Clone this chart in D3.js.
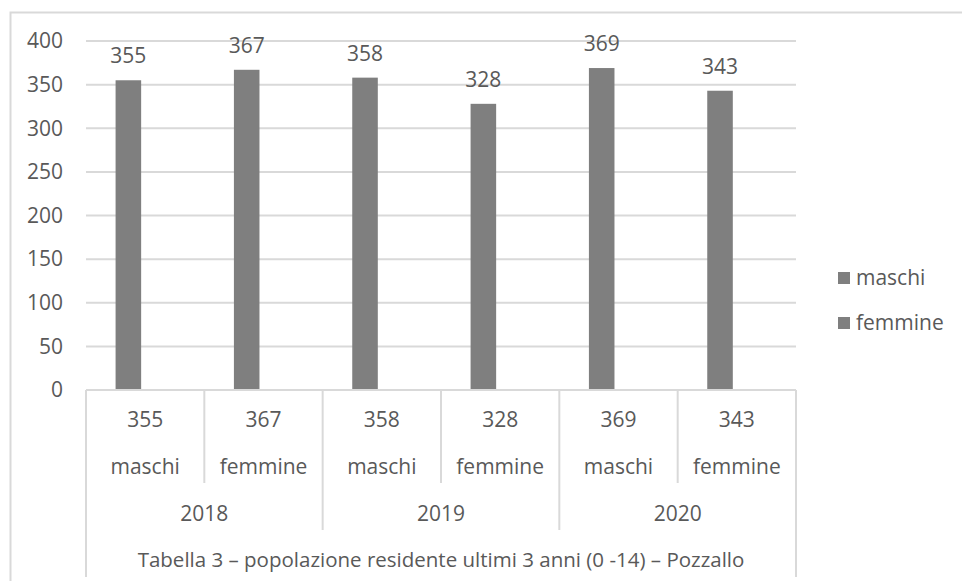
<!DOCTYPE html>
<html lang="it">
<head>
<meta charset="UTF-8">
<title>Popolazione residente 0-14 Pozzallo</title>
<script src="https://d3js.org/d3.v7.min.js"></script>
<style>
    body { margin: 0; background: #fff; }
    svg text { font-family: "Open Sans", sans-serif; fill: #595959; }
</style>
</head>
<body>
<div id="chart"></div>
<script>
// data
const years = ["2018", "2019", "2020"];
const categories = ["m2018", "f2018", "m2019", "f2019", "m2020", "f2020"];
const sexLabels = ["maschi", "femmine", "maschi", "femmine", "maschi", "femmine"];
const values = [355, 367, 358, 328, 369, 343];
const yTicks = [0, 50, 100, 150, 200, 250, 300, 350, 400];
const legendItems = ["maschi", "femmine"];
const caption = "Tabella 3 \u2013 popolazione residente ultimi 3 anni (0 -14) \u2013 Pozzallo";

const W = 962, H = 581;
const plotLeft = 86, plotRight = 796, plotTop = 41, plotBottom = 390;
const grid = "#d9d9d9", barColor = "#7f7f7f";
const fs = 21;

const svg = d3.select("#chart").append("svg")
    .attr("width", W).attr("height", H);

// outer frame
svg.append("path")
    .attr("d", `M10.5,${H + 5} V12.5 H${W + 5}`)
    .attr("fill", "none").attr("stroke", grid).attr("stroke-width", 2);

const x = d3.scaleBand().domain(categories).range([plotLeft, plotRight]).padding(0);
const xYear = d3.scaleBand().domain(years).range([plotLeft, plotRight]).padding(0);
const y = d3.scaleLinear().domain([0, 400]).range([plotBottom, plotTop]);

// gridlines
svg.append("g").selectAll("line")
    .data(yTicks.filter(d => d > 0))
    .join("line")
    .attr("x1", plotLeft).attr("x2", plotRight)
    .attr("y1", d => y(d)).attr("y2", d => y(d))
    .attr("stroke", grid).attr("stroke-width", 2);

// y axis labels
svg.append("g").selectAll("text")
    .data(yTicks)
    .join("text")
    .attr("x", 63).attr("y", d => y(d))
    .attr("dy", "0.35em")
    .attr("text-anchor", "end")
    .attr("font-size", fs)
    .text(d => d);

// bars
const bw = x.bandwidth();
svg.append("g").selectAll("rect")
    .data(values)
    .join("rect")
    .attr("x", (d, i) => x(categories[i]) + bw * 0.25)
    .attr("width", bw * 0.216)
    .attr("y", d => y(d))
    .attr("height", d => y(0) - y(d))
    .attr("fill", barColor);

// value labels above bars
svg.append("g").selectAll("text")
    .data(values)
    .join("text")
    .attr("x", (d, i) => x(categories[i]) + bw * 0.25 + bw * 0.108)
    .attr("y", d => y(d) - 17)
    .attr("text-anchor", "middle")
    .attr("font-size", fs)
    .text(d => d);

// multi-level category axis
const axis = svg.append("g").attr("stroke", grid).attr("stroke-width", 2);
axis.append("line").attr("x1", plotLeft).attr("x2", plotRight).attr("y1", plotBottom).attr("y2", plotBottom);
axis.append("line").attr("x1", plotLeft).attr("x2", plotLeft).attr("y1", plotBottom).attr("y2", 577);
axis.append("line").attr("x1", plotRight).attr("x2", plotRight).attr("y1", plotBottom).attr("y2", 577);
axis.selectAll(".sep").data(categories.filter((c, i) => i % 2 === 1))
    .join("line")
    .attr("x1", d => x(d)).attr("x2", d => x(d))
    .attr("y1", plotBottom).attr("y2", 483);
axis.selectAll(".ysep").data(years.slice(1))
    .join("line")
    .attr("x1", d => xYear(d)).attr("x2", d => xYear(d))
    .attr("y1", plotBottom).attr("y2", 530);

const lab = svg.append("g").attr("text-anchor", "middle").attr("font-size", fs);
lab.selectAll(".v").data(values).join("text")
    .attr("x", (d, i) => x(categories[i]) + bw / 2)
    .attr("y", 420).attr("dy", "0.35em")
    .text(d => d);
lab.selectAll(".s").data(sexLabels).join("text")
    .attr("x", (d, i) => x(categories[i]) + bw / 2)
    .attr("y", 467).attr("dy", "0.35em")
    .text(d => d);
lab.selectAll(".yr").data(years).join("text")
    .attr("x", d => xYear(d) + xYear.bandwidth() / 2)
    .attr("y", 514).attr("dy", "0.35em")
    .text(d => d);
lab.append("text")
    .attr("x", (plotLeft + plotRight) / 2)
    .attr("y", 560).attr("dy", "0.35em")
    .attr("font-size", 20.5)
    .text(caption);

// legend
const legend = svg.append("g").selectAll("g")
    .data(legendItems)
    .join("g")
    .attr("transform", (d, i) => `translate(838,${278 + i * 45})`);
legend.append("rect")
    .attr("x", 0).attr("y", -6).attr("width", 12).attr("height", 12)
    .attr("fill", barColor);
legend.append("text")
    .attr("x", 18).attr("dy", "0.35em")
    .attr("font-size", fs)
    .text(d => d);
</script>
</body>
</html>
